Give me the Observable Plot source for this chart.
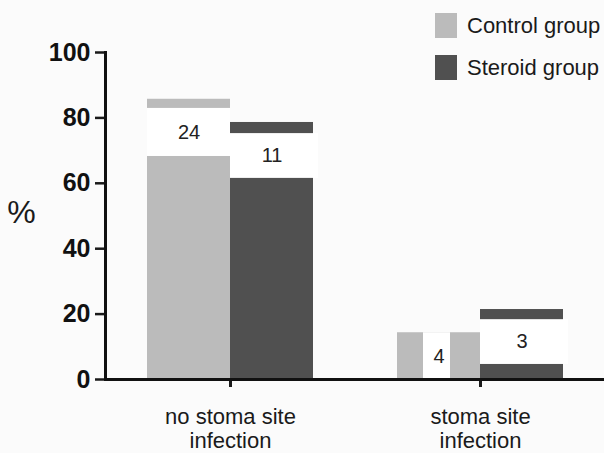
<!DOCTYPE html>
<html>
<head>
<meta charset="utf-8">
<script src="https://cdn.jsdelivr.net/npm/d3@7"></script>
<script src="https://cdn.jsdelivr.net/npm/@observablehq/plot@0.6"></script>
<style>
  html, body { margin: 0; padding: 0; background: #fbfbfb; }
  #wrap { position: relative; width: 604px; height: 453px; font-family: "Liberation Sans", Arial, sans-serif; }
  .sw { position: absolute; width: 22px; height: 25px; }
  .lt { position: absolute; font-size: 22px; color: #1a1a1a; line-height: 1; white-space: nowrap; }
</style>
</head>
<body>
<div id="wrap"></div>
<script>
// ---- data ----
const groups = ["no stoma site infection", "stoma site infection"];
const groupLines = [["no stoma site", "infection"], ["stoma site", "infection"]];
const seriesNames = ["Control group", "Steroid group"];
const controlPct = [85.7, 14.3];
const steroidPct = [78.6, 21.4];
const labelGroup = [0, 0, 1, 1];
const labelSeries = [0, 1, 0, 1];
const labelCount = [24, 11, 4, 3];
const labelLow = [68.2, 61.5, 0, 4.6];
const labelHigh = [82.9, 75.2, 14.3, 18.3];
const yTicks = [0, 20, 40, 60, 80, 100];

// ---- styles ----
const colors = ["#bbbbbb", "#505050"];
const W = 604, H = 453, ML = 105, MR = 0, MT = 52, MB = 74;
const padIn = 0.336, padOut = 0.166;
const step = (W - ML - MR) / (groups.length - padIn + 2 * padOut);
const half = step * (1 - padIn) / 2;

const bars = [];
groups.forEach((g, i) => {
  bars.push({group: g, series: seriesNames[0], value: controlPct[i]});
  bars.push({group: g, series: seriesNames[1], value: steroidPct[i]});
});
const labels = labelCount.map((c, i) => ({
  group: groups[labelGroup[i]], series: seriesNames[labelSeries[i]],
  count: c, low: labelLow[i], high: labelHigh[i], full: labelLow[i] === 0
}));
const isC = d => d.series === seriesNames[0];
const isS = d => d.series === seriesNames[1];

const chart = Plot.plot({
  width: W, height: H,
  marginLeft: ML, marginRight: MR, marginTop: MT, marginBottom: MB,
  style: {background: "transparent", fontFamily: "'Liberation Sans', Arial, sans-serif", color: "#1a1a1a"},
  x: {domain: groups, paddingInner: padIn, paddingOuter: padOut, axis: null},
  y: {domain: [0, 100], axis: null},
  marks: [
    Plot.barY(bars.filter(isC), {x: "group", y: "value", fill: colors[0], insetRight: half}),
    Plot.barY(bars.filter(isS), {x: "group", y: "value", fill: colors[1], insetLeft: half}),
    Plot.barY(labels.filter(d => isC(d) && !d.full), {x: "group", y1: "low", y2: "high", fill: "#ffffff", insetRight: half}),
    Plot.barY(labels.filter(d => isC(d) && d.full), {x: "group", y1: "low", y2: "high", fill: "#ffffff", insetLeft: 26, insetRight: half + 30}),
    Plot.barY(labels.filter(isS), {x: "group", y1: "low", y2: "high", fill: "#ffffff", insetLeft: half, insetRight: -5}),
    Plot.text(labels.filter(isC), {x: "group", y: d => (d.low + d.high) / 2, text: d => String(d.count), dx: -half / 2, fontSize: 20, fill: "#222"}),
    Plot.text(labels.filter(isS), {x: "group", y: d => (d.low + d.high) / 2, text: d => String(d.count), dx: half / 2, fontSize: 20, fill: "#222"}),
    Plot.axisY({ticks: yTicks, tickSize: 10, tickPadding: 5, fontSize: 25, fontWeight: "bold", label: null, strokeWidth: 2.5, fill: "#111"}),
    Plot.axisX({tickSize: 8, tickPadding: 19, fontSize: 22, lineHeight: 1.1, label: null, strokeWidth: 3,
      tickFormat: d => groupLines[groups.indexOf(d)].join("\n"), fill: "#1a1a1a"}),
    Plot.ruleY([0], {strokeWidth: 3, stroke: "#111"}),
    Plot.frame({anchor: "left", strokeWidth: 3, stroke: "#111"}),
    Plot.text(["%"], {frameAnchor: "left", textAnchor: "middle", dx: -84, dy: -3, text: d => d, fontSize: 32, fill: "#1a1a1a"})
  ]
});

const wrap = document.getElementById("wrap");
wrap.appendChild(chart);

// legend
const legTop = [13, 55];
seriesNames.forEach((s, i) => {
  const sw = document.createElement("div");
  sw.className = "sw";
  sw.style.left = "435px";
  sw.style.top = legTop[i] + "px";
  sw.style.background = colors[i];
  wrap.appendChild(sw);
  const t = document.createElement("div");
  t.className = "lt";
  t.style.left = "467px";
  t.style.top = (legTop[i] + 2) + "px";
  t.textContent = s;
  wrap.appendChild(t);
});
</script>
</body>
</html>
